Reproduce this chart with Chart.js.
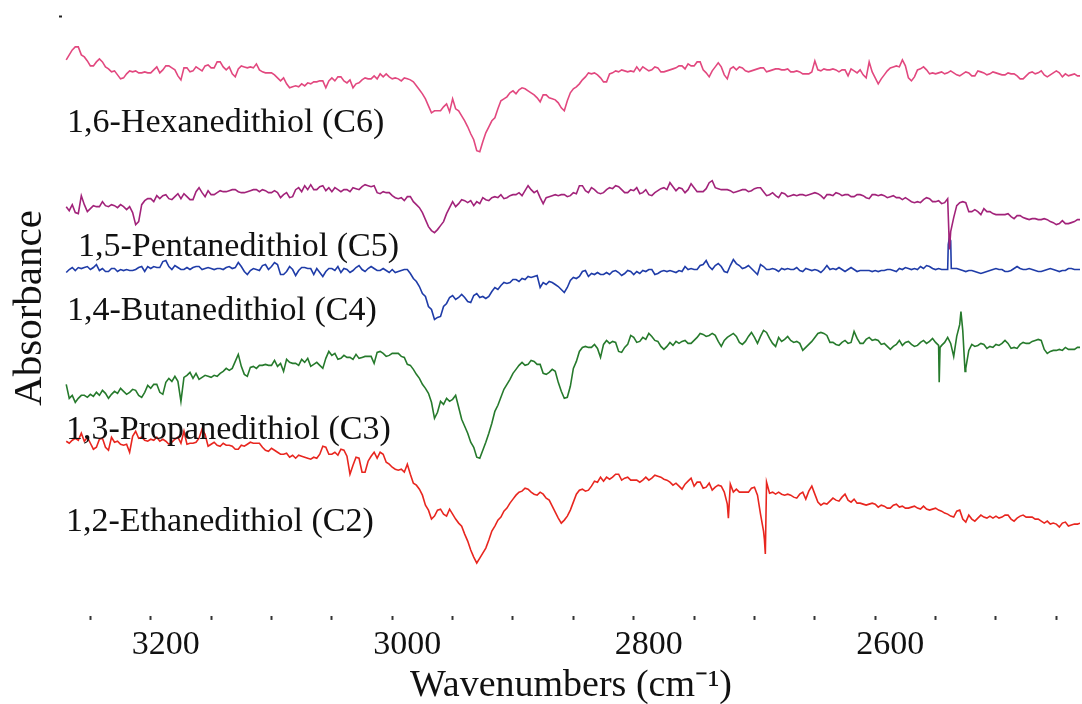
<!DOCTYPE html>
<html>
<head>
<meta charset="utf-8">
<script src="https://cdn.jsdelivr.net/npm/chart.js@4.4.1/dist/chart.umd.min.js"></script>
<style>
  html, body { margin: 0; padding: 0; background: #ffffff; }
  #wrap { width: 1082px; height: 704px; }
</style>
</head>
<body>
<div id="wrap"><canvas id="c" width="1082" height="704"></canvas></div>
<script>
// ---- x grids (wavenumbers, cm-1): main grid and half-step grid ----
const wavenumbers = [
  3270,3265,3260,3255,3250,3245,3240,3235,3230,3225,
  3220,3215,3210,3205,3200,3195,3190,3185,3180,3175,
  3170,3165,3160,3155,3150,3145,3140,3135,3130,3125,
  3120,3115,3110,3105,3100,3095,3090,3085,3080,3075,
  3070,3065,3060,3055,3050,3045,3040,3035,3030,3025,
  3020,3015,3010,3005,3000,2995,2990,2985,2980,2975,
  2970,2965,2960,2955,2950,2945,2940,2935,2930,2925,
  2920,2915,2910,2905,2900,2895,2890,2885,2880,2875,
  2870,2865,2860,2855,2850,2845,2840,2835,2830,2825,
  2820,2815,2810,2805,2800,2795,2790,2785,2780,2775,
  2770,2765,2760,2755,2750,2745,2740,2735,2730,2725,
  2720,2715,2710,2705,2700,2695,2690,2685,2680,2675,
  2670,2665,2660,2655,2650,2645,2640,2635,2630,2625,
  2620,2615,2610,2605,2600,2595,2590,2585,2580,2575,
  2570,2565,2560,2555,2550,2545,2540,2535,2530,2525,
  2520,2515,2510,2505,2500,2495,2490,2485,2480,2475,
  2470,2465,2460,2455,2450,2445,2440,2435,2430
];
const wavenumbersMid = [
  3267.5,3262.5,3257.5,3252.5,3247.5,3242.5,3237.5,3232.5,3227.5,3222.5,
  3217.5,3212.5,3207.5,3202.5,3197.5,3192.5,3187.5,3182.5,3177.5,3172.5,
  3167.5,3162.5,3157.5,3152.5,3147.5,3142.5,3137.5,3132.5,3127.5,3122.5,
  3117.5,3112.5,3107.5,3102.5,3097.5,3092.5,3087.5,3082.5,3077.5,3072.5,
  3067.5,3062.5,3057.5,3052.5,3047.5,3042.5,3037.5,3032.5,3027.5,3022.5,
  3017.5,3012.5,3007.5,3002.5,2997.5,2992.5,2987.5,2982.5,2977.5,2972.5,
  2967.5,2962.5,2957.5,2952.5,2947.5,2942.5,2937.5,2932.5,2927.5,2922.5,
  2917.5,2912.5,2907.5,2902.5,2897.5,2892.5,2887.5,2882.5,2877.5,2872.5,
  2867.5,2862.5,2857.5,2852.5,2847.5,2842.5,2837.5,2832.5,2827.5,2822.5,
  2817.5,2812.5,2807.5,2802.5,2797.5,2792.5,2787.5,2782.5,2777.5,2772.5,
  2767.5,2762.5,2757.5,2752.5,2747.5,2742.5,2737.5,2732.5,2727.5,2722.5,
  2717.5,2712.5,2707.5,2702.5,2697.5,2692.5,2687.5,2682.5,2677.5,2672.5,
  2667.5,2662.5,2657.5,2652.5,2647.5,2642.5,2637.5,2632.5,2627.5,2622.5,
  2617.5,2612.5,2607.5,2602.5,2597.5,2592.5,2587.5,2582.5,2577.5,2572.5,
  2567.5,2562.5,2557.5,2552.5,2547.5,2542.5,2537.5,2532.5,2527.5,2522.5,
  2517.5,2512.5,2507.5,2502.5,2497.5,2492.5,2487.5,2482.5,2477.5,2472.5,
  2467.5,2462.5,2457.5,2452.5,2447.5,2442.5,2437.5,2432.5
];

// ---- series (absorbance, arbitrary offset units) ----
const hexanedithiolC6 = [
  557,567,570,560,551,555,555,548,546,538,
  543,545,544,545,544,550,547,551,547,537,
  549,546,548,551,549,555,550,550,540,551,
  549,549,547,544,544,539,539,529,531,533,
  534,535,536,529,539,540,536,537,533,537,
  538,541,543,543,538,538,539,537,531,523,
  511,506,506,513,518,506,496,483,466,475,
  490,499,516,520,526,527,528,524,519,522,
  519,517,509,516,528,533,540,543,542,535,
  543,546,547,545,545,546,548,547,549,545,
  547,549,551,553,551,555,544,546,554,542,
  548,547,549,545,547,549,545,547,548,547,
  545,546,543,543,556,546,547,548,545,547,
  548,544,542,555,539,538,546,550,550,551,
  536,547,550,543,543,545,544,544,541,545,
  541,546,544,543,544,542,544,543,538,541,
  545,544,542,542,546,540,541,543,541
];
const hexanedithiolC6Mid = [
  562,570,562,556,551,558,550,545,542,539,
  546,546,544,544,547,544,551,549,541,549,
  545,550,546,552,549,555,547,543,548,550,
  550,553,545,544,542,536,533,530,530,531,
  533,535,536,536,536,540,534,529,534,539,
  538,538,540,540,539,536,538,535,527,518,
  504,506,510,505,508,501,490,477,465,484,
  496,508,518,524,523,529,526,522,515,522,
  518,514,506,524,530,537,544,544,539,535,
  544,545,546,546,550,550,546,550,545,546,
  548,551,548,551,555,547,540,550,550,538,
  550,550,546,546,548,549,546,548,547,548,
  545,545,543,545,547,548,547,547,547,541,
  546,547,539,545,533,542,549,551,557,539,
  540,548,547,544,544,543,546,542,543,544,
  541,545,542,545,543,542,543,541,538,544,
  543,546,540,544,544,543,542,541
];
const pentanedithiolC5 = [
  410,412,403,412,408,410,415,410,411,412,
  407,404,395,416,418,421,421,418,420,418,
  420,417,429,420,422,424,425,426,427,424,
  425,427,425,426,424,424,422,419,427,425,
  427,427,430,426,425,427,427,425,428,430,
  431,431,423,424,421,418,416,420,412,404,
  390,384,391,403,415,413,416,416,415,419,
  416,420,422,419,422,424,426,427,426,413,
  420,422,422,420,424,431,426,429,424,424,
  429,431,427,424,426,423,427,421,426,429,
  434,426,428,427,429,425,428,436,428,427,
  426,425,427,425,428,429,421,424,419,423,
  421,421,422,422,424,421,422,421,423,422,
  420,422,421,418,422,422,419,421,419,419,
  415,415,417,418,415,413,418,399,414,414,
  405,405,408,405,402,402,403,398,401,398,
  398,397,398,395,392,396,393,395,397
];
const pentanedithiolC5Mid = [
  406,404,421,405,411,410,411,412,409,410,
  410,392,412,418,415,418,422,417,423,423,
  417,425,424,426,422,426,425,427,425,424,
  426,427,427,424,426,419,424,420,429,431,
  432,427,431,429,429,425,427,429,427,432,
  430,424,425,424,419,419,420,415,409,397,
  386,387,395,409,410,417,414,411,413,417,
  419,419,418,421,422,421,431,424,419,419,
  421,421,422,421,423,431,424,427,423,427,
  428,430,424,427,429,424,422,424,428,427,
  430,429,424,433,425,425,434,429,427,427,
  424,426,427,426,429,425,422,421,424,420,
  422,422,421,423,423,418,422,424,421,422,
  420,422,419,422,421,421,420,419,417,417,
  414,414,419,415,416,414,385,411,415,405,
  407,402,405,403,402,402,400,401,399,397,
  398,397,397,394,393,393,394,397
];
const butanedithiolC4 = [
  344,349,349,349,347,352,348,345,348,347,
  347,346,349,345,348,349,355,350,351,347,
  349,349,350,348,348,348,347,350,349,350,
  342,348,346,352,350,352,342,350,341,349,
  348,342,344,345,348,350,348,344,349,347,
  348,348,346,346,347,345,347,343,335,323,
  310,297,300,313,321,319,319,314,323,320,
  320,329,331,333,337,335,337,339,341,334,
  335,332,327,329,339,340,346,343,344,342,
  342,346,341,346,342,343,345,347,343,346,
  346,344,345,347,347,351,356,347,353,345,
  351,353,348,351,345,352,347,348,345,347,
  347,349,345,347,347,344,351,348,349,345,
  349,345,346,346,346,346,347,346,348,349,
  347,347,348,350,347,347,347,348,347,345,
  346,344,344,346,348,347,345,348,348,347,
  347,345,346,348,346,346,348,347,347
];
const butanedithiolC4Mid = [
  347,346,348,350,349,346,345,348,345,346,
  346,347,350,350,350,349,356,347,349,347,
  347,350,347,349,347,348,349,348,354,345,
  346,347,351,347,354,342,345,347,346,349,
  348,348,340,348,346,344,347,346,351,345,
  350,346,348,344,344,346,347,338,330,320,
  307,299,310,319,317,322,315,321,319,318,
  325,327,334,334,337,338,340,340,329,332,
  334,330,324,336,338,345,340,342,342,344,
  345,344,343,345,345,346,347,342,345,345,
  345,346,350,348,347,352,350,351,350,344,
  357,351,349,348,342,350,347,347,348,348,
  347,346,348,346,346,347,347,347,347,347,
  347,346,346,345,345,346,347,345,347,348,
  348,350,351,348,348,347,376,348,346,346,
  345,343,345,347,347,345,346,350,347,348,
  346,345,347,347,345,346,348,347
];
const propanedithiolC3 = [
  232,221,218,221,222,224,226,218,225,228,
  222,227,221,224,228,232,222,238,240,215,
  241,238,237,241,239,240,245,246,255,250,
  240,250,251,252,251,250,245,254,253,257,
  258,252,251,258,261,257,261,259,262,259,
  260,253,265,260,263,263,259,251,242,232,
  223,198,215,218,217,209,190,174,159,166,
  183,205,219,232,243,251,251,256,252,243,
  244,245,225,219,248,265,270,269,268,272,
  273,274,264,272,279,275,277,280,275,267,
  274,275,275,273,276,283,280,283,275,276,
  281,280,272,280,279,280,284,273,279,277,
  276,275,266,272,279,284,281,274,271,276,
  274,278,273,279,277,272,270,270,276,274,
  272,271,276,275,274,271,279,260,292,248,
  272,271,272,270,272,273,273,269,272,273,
  275,277,267,265,266,266,267,267,269
];
const propanedithiolC3Mid = [
  218,214,221,219,220,221,223,222,223,225,
  224,226,219,231,232,224,234,235,235,239,
  244,243,239,240,241,243,248,248,262,242,
  249,248,251,251,256,253,257,253,251,254,
  250,254,248,265,263,258,259,257,258,260,
  260,264,263,261,263,260,252,247,238,228,
  214,204,212,215,221,197,183,169,158,174,
  193,211,227,237,247,254,252,255,252,242,
  247,234,218,230,255,269,269,272,259,276,
  275,265,269,281,274,279,283,276,270,270,
  271,273,276,273,279,282,281,281,270,279,
  283,274,275,284,273,286,278,270,275,280,
  274,273,269,275,283,283,274,272,274,273,
  285,273,277,276,276,273,267,272,271,275,
  270,274,273,278,271,274,273,280,286,266,
  270,273,268,269,271,276,268,268,274,273,
  276,276,263,266,267,269,267,269
];
const ethanedithiolC2 = [
  175,176,176,175,173,169,178,166,174,172,
  172,180,178,176,177,179,177,172,177,173,
  172,173,178,182,172,171,173,171,167,171,
  172,173,173,166,168,164,162,159,158,160,
  158,159,162,169,162,161,166,142,159,144,
  155,164,164,154,149,146,144,142,131,121,
  106,100,107,100,102,93,82,66,53,63,
  76,90,99,108,117,124,128,124,121,122,
  116,104,93,100,114,126,125,130,134,135,
  137,142,136,139,136,134,139,138,140,137,
  134,133,127,135,130,134,129,126,131,124,
  132,127,124,124,129,102,134,124,124,121,
  121,118,124,125,122,111,112,118,115,122,
  114,113,112,112,112,111,108,111,109,108,
  109,108,110,106,108,105,102,99,106,94,
  97,98,99,100,100,99,101,95,100,99,
  99,97,93,92,92,93,90,92,93
];
const ethanedithiolC2Mid = [
  173,178,183,179,167,177,169,179,175,171,
  164,185,179,175,176,175,175,174,179,185,
  173,174,187,170,174,170,171,170,167,170,
  174,173,169,165,166,162,163,161,161,159,
  157,158,170,162,164,167,160,151,158,144,
  160,158,162,152,147,147,152,133,127,111,
  97,106,102,107,97,90,75,59,58,68,
  85,96,105,113,121,125,127,122,124,118,
  110,98,96,106,122,127,126,135,139,139,
  139,142,138,136,136,136,136,141,139,136,
  131,130,132,138,134,128,133,129,130,112,
  124,124,124,128,121,85,123,122,122,122,
  119,122,117,130,114,113,115,116,119,116,
  117,113,111,113,109,110,108,112,110,108,
  110,107,107,107,106,103,100,105,97,101,
  95,101,98,98,98,101,97,98,101,99,
  97,95,95,93,89,94,91,92
];

// narrow spikes read between grid points: [wavenumber, absorbance]
const spikesC6 = [];
const spikesC5 = [[2538.5, 367]];
const spikesC4 = [[2539.5, 372], [2538.6, 379], [2537.0, 348]];
const spikesC3 = [[2547.0, 234], [2546.3, 269], [2529.0, 305], [2525.6, 245]];
const spikesC2 = [[2721.6, 98], [2691.8, 77], [2691.0, 62]];

// ---- labels / ticks ----
const seriesNames = [
  '1,6-Hexanedithiol (C6)',
  '1,5-Pentanedithiol (C5)',
  '1,4-Butanedithiol (C4)',
  '1,3-Propanedithiol (C3)',
  '1,2-Ethanedithiol (C2)'
];
const xTickValues = [3250,3200,3150,3100,3050,3000,2950,2900,2850,2800,2750,2700,2650,2600,2550,2500,2450];
const xTickLabels = [3200, 3000, 2800, 2600];
const yTopTick = [600];

// ---- styling (kept apart from data) ----
const seriesColors = ['#e2487f', '#a2237a', '#1f3ca8', '#267a2c', '#e8261f'];
const labelPos = [[67, 132], [78, 256], [67, 320], [66, 439], [66, 531]];

function buildPoints(values, midValues, spikes) {
  const pts = wavenumbers.map((w, i) => ({ x: w, y: values[i] }));
  wavenumbersMid.forEach((w, i) => pts.push({ x: w, y: midValues[i] }));
  spikes.forEach(([w, v]) => pts.push({ x: w, y: v }));
  pts.sort((a, b) => b.x - a.x);
  return pts;
}

const seriesValues = [hexanedithiolC6, pentanedithiolC5, butanedithiolC4, propanedithiolC3, ethanedithiolC2];
const seriesMid = [hexanedithiolC6Mid, pentanedithiolC5Mid, butanedithiolC4Mid, propanedithiolC3Mid, ethanedithiolC2Mid];
const seriesSpikes = [spikesC6, spikesC5, spikesC4, spikesC3, spikesC2];

const datasets = seriesValues.map((vals, i) => ({
  label: seriesNames[i],
  data: buildPoints(vals, seriesMid[i], seriesSpikes[i]),
  borderColor: seriesColors[i],
  borderWidth: 1.6,
  pointRadius: 0,
  tension: 0,
  fill: false
}));

const FONT = '"Liberation Serif", "Times New Roman", Times, serif';
Chart.defaults.font.family = FONT;
Chart.defaults.color = '#111';

const seriesLabelPlugin = {
  id: 'seriesLabels',
  afterDatasetsDraw(chart) {
    const ctx = chart.ctx;
    ctx.save();
    ctx.font = '34px ' + FONT;
    ctx.fillStyle = '#111';
    ctx.textAlign = 'left';
    ctx.textBaseline = 'alphabetic';
    seriesNames.forEach((name, i) => {
      ctx.fillText(name, labelPos[i][0], labelPos[i][1]);
    });
    ctx.restore();
  }
};

new Chart(document.getElementById('c'), {
  type: 'line',
  data: { datasets },
  options: {
    responsive: false,
    devicePixelRatio: 1,
    animation: false,
    normalized: true,
    layout: { padding: { left: 0, right: 2, top: 0, bottom: 0 } },
    plugins: { legend: { display: false }, tooltip: { enabled: false } },
    scales: {
      x: {
        type: 'linear',
        reverse: true,
        min: 2430.4,
        max: 3273.5,
        afterBuildTicks: (scale) => { scale.ticks = xTickValues.map(v => ({ value: v })); },
        ticks: {
          autoSkip: false,
          maxRotation: 0,
          padding: 8,
          labelOffset: 15,
          color: '#111',
          font: { size: 34, lineHeight: 1 },
          callback: (v) => xTickLabels.includes(v) ? String(v) : ''
        },
        grid: { display: true, drawOnChartArea: false, drawTicks: true, tickLength: 4, tickWidth: 2, tickColor: '#333' },
        border: { display: false },
        title: {
          display: true,
          text: 'Wavenumbers (cm\u207B\u00B9)',
          color: '#111',
          font: { size: 38, lineHeight: 0.87 },
          padding: { top: 0, bottom: 1 }
        }
      },
      y: {
        type: 'linear',
        min: 0,
        max: 617,
        afterBuildTicks: (scale) => { scale.ticks = yTopTick.map(v => ({ value: v })); },
        ticks: { display: false },
        grid: { display: true, drawOnChartArea: false, drawTicks: true, tickLength: 3, tickWidth: 2, tickColor: '#222' },
        border: { display: false },
        title: {
          display: true,
          text: 'Absorbance',
          color: '#111',
          font: { size: 41, lineHeight: 1 },
          padding: { top: 10, bottom: 8 }
        }
      }
    }
  },
  plugins: [seriesLabelPlugin]
});
</script>
</body>
</html>
